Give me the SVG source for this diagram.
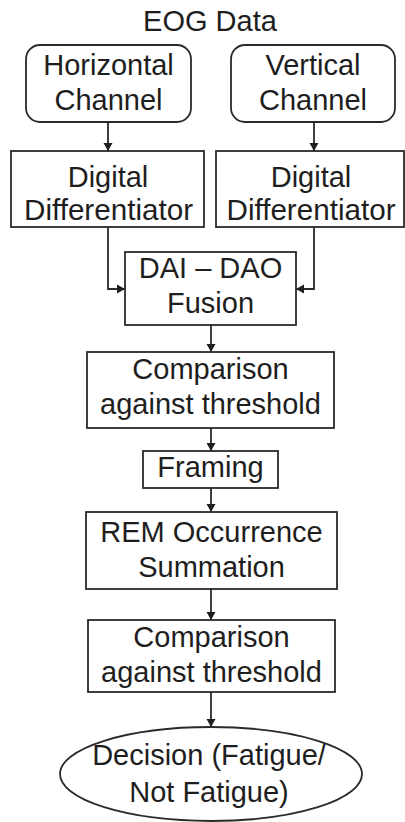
<svg xmlns="http://www.w3.org/2000/svg" width="405" height="822" viewBox="0 0 405 822">
<style>
  .box { fill: #ffffff; stroke: #2a2a2a; stroke-width: 1.8; }
  .lbl { font-family: "Liberation Sans", Arial, sans-serif; font-size: 29px; fill: #1e1e1e; text-anchor: middle; }
  .conn { fill: none; stroke: #2a2a2a; stroke-width: 1.8; }
</style>
<defs>
  <marker id="arrow" markerUnits="userSpaceOnUse" markerWidth="10" markerHeight="10" refX="8" refY="5" orient="auto">
    <path d="M0,0.5 L8,5 L0,9.5 z" fill="#1e1e1e"/>
  </marker>
</defs>
<rect width="405" height="822" fill="#ffffff"/>
<text class="lbl" x="210" y="31">EOG Data</text>

<g id="connectors">
  <path class="conn" d="M108,122 V151" marker-end="url(#arrow)"/>
  <path class="conn" d="M314,122 V151" marker-end="url(#arrow)"/>
  <path class="conn" d="M108,227 V289 H125" marker-end="url(#arrow)"/>
  <path class="conn" d="M314,227 V289 H296" marker-end="url(#arrow)"/>
  <path class="conn" d="M211,325 V352" marker-end="url(#arrow)"/>
  <path class="conn" d="M211,428 V451" marker-end="url(#arrow)"/>
  <path class="conn" d="M211,488 V512" marker-end="url(#arrow)"/>
  <path class="conn" d="M211,589 V620" marker-end="url(#arrow)"/>
  <path class="conn" d="M211,692 V727" marker-end="url(#arrow)"/>
</g>

<g id="horizontal-channel">
  <rect class="box" x="26" y="45" width="165" height="77" rx="14"/>
  <text class="lbl" x="108.5" y="75">Horizontal</text>
  <text class="lbl" x="108.5" y="110">Channel</text>
</g>
<g id="vertical-channel">
  <rect class="box" x="231" y="45" width="164" height="77" rx="14"/>
  <text class="lbl" x="313" y="75">Vertical</text>
  <text class="lbl" x="313" y="110">Channel</text>
</g>
<g id="diff-left">
  <rect class="box" x="11" y="151" width="193" height="76"/>
  <text class="lbl" x="108" y="187">Digital</text>
  <text class="lbl" x="108.5" y="220" textLength="169" lengthAdjust="spacingAndGlyphs">Differentiator</text>
</g>
<g id="diff-right">
  <rect class="box" x="216" y="151" width="188" height="76"/>
  <text class="lbl" x="311" y="187">Digital</text>
  <text class="lbl" x="311" y="220" textLength="169" lengthAdjust="spacingAndGlyphs">Differentiator</text>
</g>
<g id="fusion">
  <rect class="box" x="125" y="252" width="171" height="73"/>
  <text class="lbl" x="210.5" y="278">DAI – DAO</text>
  <text class="lbl" x="210.5" y="313">Fusion</text>
</g>
<g id="comparison-1">
  <rect class="box" x="87" y="352" width="247" height="76"/>
  <text class="lbl" x="210.5" y="379">Comparison</text>
  <text class="lbl" x="210.5" y="414">against threshold</text>
</g>
<g id="framing">
  <rect class="box" x="143" y="451" width="135" height="37"/>
  <text class="lbl" x="210.5" y="477">Framing</text>
</g>
<g id="rem-summation">
  <rect class="box" x="86" y="512" width="251" height="77"/>
  <text class="lbl" x="211.5" y="542">REM Occurrence</text>
  <text class="lbl" x="211.5" y="577">Summation</text>
</g>
<g id="comparison-2">
  <rect class="box" x="88" y="620" width="247" height="72"/>
  <text class="lbl" x="211.5" y="647">Comparison</text>
  <text class="lbl" x="211.5" y="682">against threshold</text>
</g>
<g id="decision">
  <ellipse class="box" cx="211" cy="774" rx="151" ry="47"/>
  <text class="lbl" x="209" y="765">Decision (Fatigue/</text>
  <text class="lbl" x="209" y="802">Not Fatigue)</text>
</g>
</svg>
